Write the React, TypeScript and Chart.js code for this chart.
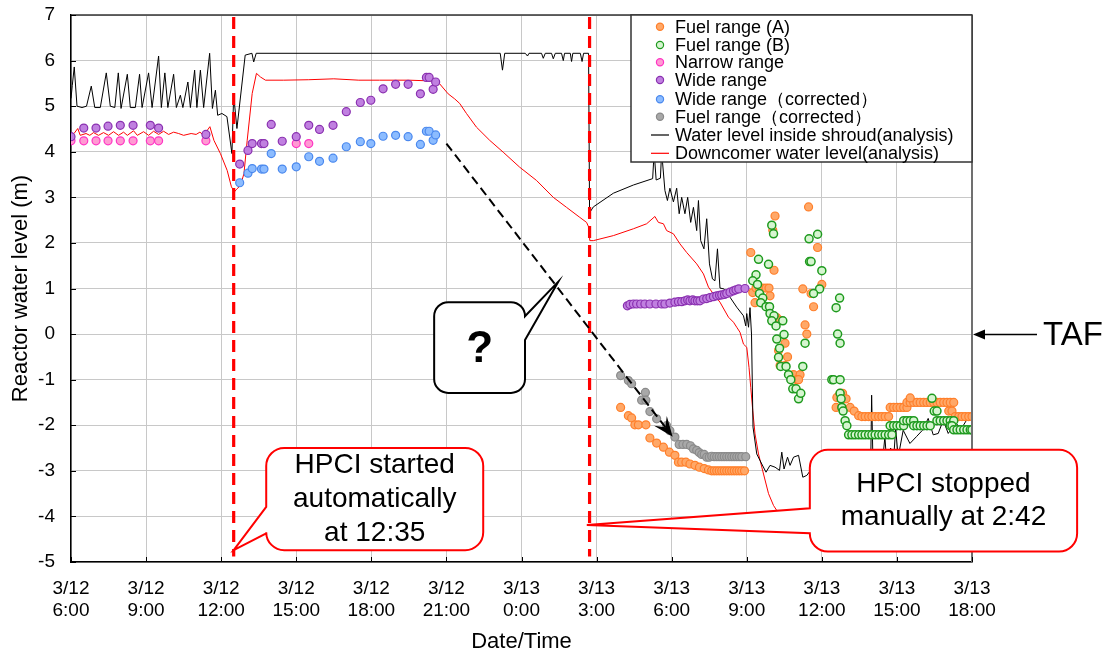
import React, { useEffect, useRef } from 'react';
import { Chart, registerables } from 'chart.js';

Chart.register(...registerables);

const FONT = 'Arial, "Liberation Sans", sans-serif';

// x = hours since 3/12 6:00, y = water level (m)
const tickDates = ['3/12', '3/12', '3/12', '3/12', '3/12', '3/12', '3/13', '3/13', '3/13', '3/13', '3/13', '3/13', '3/13'];
const tickTimes = ['6:00', '9:00', '12:00', '15:00', '18:00', '21:00', '0:00', '3:00', '6:00', '9:00', '12:00', '15:00', '18:00'];

const fuelA: number[][] = [
  [21.96, -1.61], [22.27, -1.79], [22.4, -1.84], [22.53, -1.99], [22.67, -1.99], [22.97, -1.99], [23.13, -2.28], [23.4, -2.39],
  [23.67, -2.48], [23.91, -2.59], [24.13, -2.66], [24.27, -2.81], [24.4, -2.81], [24.57, -2.81], [24.73, -2.85], [24.93, -2.88],
  [25.11, -2.92], [25.3, -2.95], [25.47, -2.98], [25.6, -3.0], [25.7, -3.0], [25.8, -3.0], [25.9, -3.0], [26.0, -3.0], [26.1, -3.0],
  [26.2, -3.0], [26.3, -3.0], [26.4, -3.0], [26.5, -3.0], [26.6, -3.0], [26.7, -3.0], [26.8, -3.0], [26.91, -3.0],
  [27.16, 1.79], [28.13, 2.59], [28.04, 2.28], [28.09, 1.4], [27.24, 0.91], [27.37, 1.01], [27.5, 1.01], [27.64, 1.01], [27.77, 1.01],
  [27.89, 1.01], [27.33, 0.69], [27.93, 0.84], [28.2, 0.36], [28.33, 0.3], [28.53, -0.2], [28.27, -0.36], [28.63, -0.5], [28.33, -0.69],
  [28.53, -0.69], [28.87, -0.89], [29.13, -0.89], [29.0, -1.0], [29.07, -1.0], [29.24, 0.99], [29.47, 2.79], [29.83, 1.9], [30.0, 1.09],
  [29.57, 0.89], [29.67, 0.6], [29.33, 0.2], [29.4, 0.0], [30.6, -1.39], [30.73, -1.3], [30.83, -1.3], [30.97, -1.42], [30.57, -1.61],
  [30.8, -1.61], [31.13, -1.61], [31.29, -1.69], [31.47, -1.79], [31.6, -1.81], [31.73, -1.81], [31.87, -1.81], [32.0, -1.81],
  [32.13, -1.81], [32.27, -1.81], [32.4, -1.81], [32.53, -1.81], [32.67, -1.81], [32.73, -1.61], [32.87, -1.61], [33.0, -1.61],
  [33.13, -1.61], [33.27, -1.61], [33.4, -1.61], [33.4, -1.5], [33.53, -1.5], [33.67, -1.5], [33.8, -1.5], [33.93, -1.5], [34.07, -1.5],
  [34.2, -1.5], [34.33, -1.5], [34.47, -1.5], [34.6, -1.5], [34.73, -1.5], [34.87, -1.5], [35.0, -1.5], [35.13, -1.5], [35.27, -1.5],
  [33.53, -1.4], [35.07, -1.69], [35.2, -1.69], [35.33, -1.81], [35.47, -1.81], [35.6, -1.81], [35.73, -1.81], [35.87, -1.81], [36.0, -1.81],
];

const fuelB: number[][] = [
  [27.47, 1.64], [27.87, 1.53], [27.37, 1.3], [27.24, 1.17], [27.43, 1.09], [28.0, 2.39], [28.07, 2.2], [27.51, 0.89], [27.64, 0.79],
  [27.56, 0.69], [27.77, 0.6], [27.91, 0.6], [27.93, 0.45], [28.09, 0.4], [28.0, 0.29], [28.44, 0.29], [28.17, 0.18], [28.49, -0.01],
  [28.2, -0.11], [28.31, -0.31], [28.27, -0.51], [28.36, -0.71], [28.57, -0.71], [28.67, -0.89], [28.76, -1.0], [28.84, -1.2],
  [28.97, -1.2], [29.07, -1.42], [29.16, -1.3], [29.24, -0.71], [29.33, -0.2], [29.51, 1.59], [29.57, 1.59], [29.49, 2.09],
  [29.83, 2.19], [30.0, 1.39], [29.91, 0.99], [29.67, 0.89], [30.71, 0.79], [30.57, 0.58], [30.63, 0.0], [30.73, -0.2], [30.4, -1.0],
  [30.47, -1.0], [30.73, -1.0], [30.73, -1.3], [30.77, -1.42], [30.8, -1.61], [30.85, -1.69], [30.93, -1.9], [31.0, -2.01],
  [31.07, -2.21], [31.2, -2.21], [31.33, -2.21], [31.47, -2.21], [31.6, -2.21], [31.73, -2.21], [31.87, -2.21], [32.0, -2.21],
  [32.13, -2.21], [32.27, -2.21], [32.4, -2.21], [32.53, -2.21], [32.67, -2.21], [32.8, -2.21], [32.73, -2.01], [32.87, -2.01],
  [33.0, -2.01], [33.13, -2.01], [33.27, -2.01], [33.27, -1.9], [33.4, -1.9], [33.53, -1.9], [33.67, -1.9], [33.67, -2.01], [33.8, -2.01],
  [33.93, -2.01], [34.07, -2.01], [34.2, -2.01], [34.33, -2.01], [34.4, -1.41], [34.49, -1.69], [34.6, -1.69], [34.6, -1.9], [34.73, -1.9],
  [34.87, -1.9], [35.0, -1.9], [35.13, -1.9], [35.27, -1.9], [35.13, -2.01], [35.2, -2.01], [35.27, -2.1], [35.4, -2.1], [35.53, -2.1],
  [35.67, -2.1], [35.8, -2.1], [35.93, -2.1], [36.0, -2.1],
];

const narrowRange: number[][] = [
  [0, 4.24], [0.51, 4.24], [1.0, 4.24], [1.48, 4.24], [1.97, 4.24], [2.48, 4.24], [3.17, 4.24], [3.5, 4.24], [5.39, 4.24], [9.0, 4.18], [9.5, 4.18],
];

const wideRange: number[][] = [
  [0, 4.33], [0.51, 4.52], [1.0, 4.52], [1.48, 4.56], [1.97, 4.58], [2.48, 4.58], [3.17, 4.58], [3.5, 4.52], [5.39, 4.38], [6.74, 3.73],
  [7.07, 4.03], [7.24, 4.18], [7.61, 4.18], [7.71, 4.18], [8.0, 4.6], [8.44, 4.23], [9.0, 4.33], [9.5, 4.58], [9.93, 4.49], [10.47, 4.58],
  [11.0, 4.88], [11.56, 5.08], [11.98, 5.13], [12.47, 5.38], [12.97, 5.48], [13.47, 5.48], [13.96, 5.27], [14.2, 5.63], [14.31, 5.63],
  [14.47, 5.37], [14.57, 5.53],
  [22.23, 0.62], [22.33, 0.65], [22.47, 0.66], [22.6, 0.66], [22.76, 0.66], [22.93, 0.66], [23.13, 0.66], [23.37, 0.66], [23.6, 0.66],
  [23.73, 0.66], [23.93, 0.68], [24.13, 0.7], [24.27, 0.71], [24.4, 0.71], [24.53, 0.73], [24.64, 0.75], [24.73, 0.73], [24.84, 0.75],
  [24.93, 0.73], [25.03, 0.73], [25.13, 0.73], [25.27, 0.77], [25.4, 0.78], [25.53, 0.8], [25.67, 0.82], [25.8, 0.84], [25.91, 0.85],
  [26.0, 0.86], [26.11, 0.87], [26.2, 0.89], [26.33, 0.92], [26.47, 0.95], [26.57, 0.97], [26.68, 0.99], [26.93, 1.0],
];

const wideCorrected: number[][] = [
  [6.74, 3.32], [7.07, 3.53], [7.24, 3.63], [7.61, 3.62], [7.71, 3.62], [8.0, 3.96], [8.44, 3.62], [9.0, 3.67], [9.5, 3.89], [9.93, 3.79],
  [10.47, 3.86], [11.0, 4.11], [11.56, 4.22], [11.98, 4.18], [12.47, 4.34], [12.97, 4.36], [13.47, 4.33], [13.96, 4.16], [14.2, 4.45],
  [14.31, 4.45], [14.47, 4.25], [14.57, 4.37],
];

const fuelCorrected: number[][] = [
  [21.96, -0.91], [22.27, -1.02], [22.4, -1.09], [22.8, -1.45], [22.95, -1.28], [22.97, -1.45], [23.13, -1.7], [23.4, -1.86], [23.8, -2.01],
  [23.93, -2.12], [24.13, -2.26], [24.3, -2.42], [24.45, -2.42], [24.6, -2.42], [24.75, -2.45], [24.87, -2.52], [25.0, -2.55], [25.1, -2.6],
  [25.2, -2.64], [25.3, -2.64], [25.4, -2.7], [25.5, -2.7], [25.6, -2.68], [25.7, -2.69], [25.8, -2.69], [25.9, -2.69], [26.0, -2.69],
  [26.1, -2.69], [26.2, -2.69], [26.3, -2.69], [26.4, -2.69], [26.5, -2.69], [26.6, -2.69], [26.7, -2.69], [26.8, -2.69], [26.96, -2.69],
];

const shroudLevel: number[][] = [
  [0, 5.17], [0.05, 5.45], [0.13, 5.86], [0.24, 5.0], [0.44, 4.97], [0.62, 5.0], [0.81, 5.44], [0.95, 4.97], [1.17, 4.97], [1.41, 5.73],
  [1.57, 5.0], [1.75, 4.97], [1.89, 5.73], [2.0, 4.95], [2.25, 5.7], [2.37, 4.97], [2.57, 4.97], [2.74, 5.7], [2.84, 4.97], [3.1, 5.73],
  [3.24, 4.97], [3.5, 6.1], [3.61, 4.97], [3.75, 5.73], [3.87, 4.97], [4.1, 5.7], [4.21, 4.97], [4.37, 5.24], [4.47, 4.97], [4.67, 5.53],
  [4.77, 4.97], [4.94, 5.79], [5.03, 4.97], [5.17, 5.79], [5.3, 4.97], [5.54, 6.16], [5.65, 4.95], [5.77, 5.35], [5.86, 4.8], [6.03, 4.84],
  [6.23, 4.77], [6.43, 3.96], [6.5, 5.24], [6.63, 4.51], [6.96, 6.12], [7.23, 6.16], [7.3, 5.97], [7.4, 6.16], [17.15, 6.16], [17.24, 5.79],
  [17.33, 6.16], [18.15, 6.16], [18.24, 6.1], [18.3, 6.16], [18.8, 6.16], [18.87, 6.05], [18.95, 6.16], [19.2, 6.16], [19.27, 6.04],
  [19.35, 6.16], [19.6, 6.16], [19.67, 6.0], [19.72, 6.16], [19.95, 6.16], [20.0, 5.98], [20.05, 6.16], [20.35, 6.16], [20.42, 5.98],
  [20.48, 6.16], [20.68, 6.16], [20.72, 2.66], [20.87, 2.79], [21.67, 3.09], [22.47, 3.27], [23.24, 3.41], [23.3, 4.0], [23.38, 3.38],
  [23.55, 3.42], [23.6, 4.0], [23.73, 3.15], [23.83, 2.93], [23.93, 3.2], [24.07, 2.9], [24.2, 3.2], [24.3, 2.64], [24.4, 3.0],
  [24.53, 2.64], [24.64, 3.0], [24.76, 2.45], [24.87, 2.78], [25.0, 2.27], [25.07, 2.93], [25.16, 2.05], [25.29, 1.87], [25.4, 2.53],
  [25.51, 1.54], [25.63, 1.21], [25.73, 1.17], [25.83, 1.87], [25.93, 1.01], [26.09, 0.99], [26.33, 0.81], [26.6, 0.59], [26.87, 0.4],
  [26.96, 0.18], [27.0, 0.45], [27.07, 0.15], [27.13, 0.58], [27.19, 0.0], [27.25, -2.04], [27.4, -2.63], [27.6, -2.85], [27.77, -3.03],
  [27.93, -2.88], [28.13, -2.92], [28.31, -2.99], [28.4, -2.59], [28.49, -2.96], [28.63, -2.7], [28.73, -2.88], [28.87, -2.7],
  [29.07, -2.66], [29.24, -3.14], [29.4, -3.1], [29.6, -2.95], [30.0, -3.1], [30.5, -2.9], [31.0, -3.05], [31.5, -2.95], [31.95, -3.0],
  [31.99, -1.34], [32.05, -3.0], [32.3, -2.6], [32.4, -2.95], [32.52, -2.25], [32.6, -2.9], [32.75, -2.5], [32.85, -2.9], [32.95, -2.07],
  [33.05, -2.7], [33.25, -2.11], [33.52, -2.4], [33.78, -2.25], [34.02, -2.11], [34.25, -1.85], [34.45, -2.21], [34.65, -2.18],
  [34.85, -1.89], [35.05, -2.18], [35.22, -2.04], [35.38, -1.97], [35.58, -2.07], [35.78, -1.89], [36.0, -1.85],
];

const downcomerLevel: number[][] = [
  [0, 4.36], [0.12, 4.4], [0.27, 4.51], [0.37, 4.36], [0.6, 4.4], [0.75, 4.36], [0.9, 4.42], [1.1, 4.36], [1.3, 4.42], [1.5, 4.36],
  [1.7, 4.44], [1.9, 4.36], [2.1, 4.43], [2.25, 4.36], [2.5, 4.46], [2.65, 4.36], [2.9, 4.44], [3.1, 4.36], [3.3, 4.45], [3.5, 4.38],
  [3.7, 4.45], [3.9, 4.38], [4.1, 4.43], [4.3, 4.4], [4.5, 4.36], [4.8, 4.4], [5.0, 4.38], [5.15, 4.43], [5.3, 4.36], [5.55, 4.55],
  [5.71, 4.25], [5.97, 3.96], [6.24, 3.59], [6.41, 3.23], [6.53, 3.12], [6.62, 3.18], [6.77, 3.26], [6.91, 3.52], [7.04, 4.25],
  [7.24, 5.28], [7.41, 5.72], [7.57, 5.64], [7.77, 5.57], [8.5, 5.57], [9.5, 5.58], [10.5, 5.6], [11.5, 5.57], [12.33, 5.57],
  [13.5, 5.57], [14.6, 5.55], [14.73, 5.49], [15.07, 5.27], [15.33, 5.16], [15.53, 5.06], [15.8, 4.84], [16.2, 4.54], [16.73, 4.25],
  [17.27, 3.99], [17.93, 3.66], [18.6, 3.37], [19.27, 3.0], [19.8, 2.78], [20.33, 2.56], [20.6, 2.45], [20.69, 2.34], [20.73, 2.05],
  [20.87, 2.05], [21.67, 2.16], [22.47, 2.31], [23.0, 2.42], [23.33, 2.58], [23.47, 2.45], [23.67, 2.42], [23.8, 2.27], [24.07, 2.2],
  [24.33, 1.98], [24.6, 1.79], [25.0, 1.54], [25.27, 1.32], [25.47, 1.03], [25.67, 0.88], [25.93, 0.7], [26.27, 0.37], [26.47, 0.26],
  [26.6, 0.15], [26.73, 0.04], [26.87, -0.22], [27.0, -0.29], [27.09, -0.73], [27.16, -1.17], [27.24, -1.68], [27.33, -2.19],
  [27.47, -2.63], [27.67, -3.07], [27.87, -3.5], [28.07, -3.76], [28.2, -3.87],
];

// HPCI events (hours since 3/12 6:00)
const hpciStart = 6.5;
const hpciStop = 20.72;

const pts = (a: number[][]) => a.map(([x, y]) => ({ x, y }));

function callout(ctx: CanvasRenderingContext2D, x1: number, y1: number, x2: number, y2: number, r: number,
  side: 'left' | 'right', a1: number, a2: number, tx: number, ty: number) {
  ctx.beginPath();
  ctx.moveTo(x1 + r, y1);
  ctx.lineTo(x2 - r, y1);
  ctx.arcTo(x2, y1, x2, y1 + r, r);
  if (side === 'right') {
    ctx.lineTo(x2, a1);
    ctx.lineTo(tx, ty);
    ctx.lineTo(x2, a2);
  }
  ctx.lineTo(x2, y2 - r);
  ctx.arcTo(x2, y2, x2 - r, y2, r);
  ctx.lineTo(x1 + r, y2);
  ctx.arcTo(x1, y2, x1, y2 - r, r);
  if (side === 'left') {
    ctx.lineTo(x1, a2);
    ctx.lineTo(tx, ty);
    ctx.lineTo(x1, a1);
  }
  ctx.lineTo(x1, y1 + r);
  ctx.arcTo(x1, y1, x1 + r, y1, r);
  ctx.closePath();
  ctx.fillStyle = '#fff';
  ctx.fill();
  ctx.stroke();
}

const overlayPlugin = {
  id: 'overlay',
  afterDatasetsDraw(chart: any) {
    const ctx: CanvasRenderingContext2D = chart.ctx;
    const xs = chart.scales.x;
    const ys = chart.scales.y;
    const ca = chart.chartArea;
    const X = (v: number) => xs.getPixelForValue(v);
    const Y = (v: number) => ys.getPixelForValue(v);
    ctx.save();

    // top & right frame
    ctx.lineWidth = 1.5;
    ctx.strokeStyle = '#333';
    ctx.beginPath();
    ctx.moveTo(ca.left, ca.top);
    ctx.lineTo(ca.right, ca.top);
    ctx.stroke();
    ctx.strokeStyle = '#707070';
    ctx.lineWidth = 2;
    ctx.beginPath();
    ctx.moveTo(ca.right, ca.top);
    ctx.lineTo(ca.right, ca.bottom);
    ctx.stroke();

    // inner tick marks
    ctx.strokeStyle = '#000';
    ctx.lineWidth = 1;
    ctx.beginPath();
    for (let v = -5; v <= 7; v++) {
      const y = Math.round(Y(v)) + 0.5;
      ctx.moveTo(ca.left, y);
      ctx.lineTo(ca.left + 5, y);
    }
    for (let h = 0; h <= 36; h += 3) {
      const x = Math.round(X(h)) + 0.5;
      ctx.moveTo(x, ca.bottom);
      ctx.lineTo(x, ca.bottom - 5);
    }
    ctx.stroke();

    // HPCI dashed markers
    ctx.strokeStyle = '#ff0000';
    ctx.lineWidth = 3.2;
    ctx.setLineDash([12, 7]);
    [hpciStart, hpciStop].forEach((h) => {
      ctx.beginPath();
      ctx.moveTo(X(h), ca.top + 2);
      ctx.lineTo(X(h), Y(-4.88));
      ctx.stroke();
    });

    // black dashed arrow
    const ax1 = X(15.0), ay1 = Y(4.18), ax2 = X(24.04), ay2 = Y(-2.25);
    const dx = ax2 - ax1, dy = ay2 - ay1;
    const len = Math.hypot(dx, dy);
    const ux = dx / len, uy = dy / len;
    ctx.strokeStyle = '#000';
    ctx.lineWidth = 2;
    ctx.setLineDash([9, 5]);
    ctx.beginPath();
    ctx.moveTo(ax1, ay1);
    ctx.lineTo(ax2 - ux * 12, ay2 - uy * 12);
    ctx.stroke();
    ctx.setLineDash([]);
    const hl = 20, hw = 8;
    ctx.fillStyle = '#000';
    ctx.beginPath();
    ctx.moveTo(ax2, ay2);
    ctx.lineTo(ax2 - ux * hl - uy * hw, ay2 - uy * hl + ux * hw);
    ctx.lineTo(ax2 - ux * hl * 0.6, ay2 - uy * hl * 0.6);
    ctx.lineTo(ax2 - ux * hl + uy * hw, ay2 - uy * hl - ux * hw);
    ctx.closePath();
    ctx.fill();

    // "?" balloon
    ctx.strokeStyle = '#000';
    ctx.lineWidth = 2;
    callout(ctx, X(14.51), Y(0.7), X(18.14), Y(-1.29), 14, 'right', Y(0.39), Y(-0.13), X(19.47), Y(1.15));
    ctx.fillStyle = '#000';
    ctx.font = `bold 44px ${FONT}`;
    ctx.textAlign = 'center';
    ctx.textBaseline = 'middle';
    ctx.fillText('?', (X(14.51) + X(18.14)) / 2, (Y(0.7) + Y(-1.29)) / 2 + 2);

    // HPCI started callout
    ctx.strokeStyle = '#ff0000';
    ctx.lineWidth = 2;
    const s1 = X(7.8), s2 = X(16.47), s3 = Y(-2.5), s4 = Y(-4.74);
    callout(ctx, s1, s3, s2, s4, 18, 'left', Y(-3.79), Y(-4.37), X(hpciStart), Y(-4.74));
    ctx.fillStyle = '#000';
    ctx.font = `28px ${FONT}`;
    const scx = (s1 + s2) / 2, scy = (s3 + s4) / 2;
    ['HPCI started', 'automatically', 'at 12:35'].forEach((t, i) => ctx.fillText(t, scx, scy + (i - 1) * 34));

    // HPCI stopped callout
    const t1 = X(29.52), t2 = X(40.2), t3 = Y(-2.54), t4 = Y(-4.77);
    ctx.strokeStyle = '#ff0000';
    callout(ctx, t1, t3, t2, t4, 18, 'left', Y(-3.82), Y(-4.37), X(20.61), Y(-4.19));
    ctx.fillStyle = '#000';
    const tcx = (t1 + t2) / 2, tcy = (t3 + t4) / 2;
    ['HPCI stopped', 'manually at 2:42'].forEach((t, i) => ctx.fillText(t, tcx, tcy + (i - 0.5) * 33));

    // legend
    const lx1 = 631, lx2 = ca.right, ly1 = ca.top, ly2 = 162;
    ctx.fillStyle = '#fff';
    ctx.fillRect(lx1, ly1, lx2 - lx1, ly2 - ly1);
    ctx.strokeStyle = '#333';
    ctx.lineWidth = 1.5;
    ctx.strokeRect(lx1, ly1, lx2 - lx1, ly2 - ly1);
    const rows = [26.7, 45, 62.3, 80, 99.3, 116.7, 135, 153.3];
    ctx.font = `18px ${FONT}`;
    ctx.textAlign = 'left';
    ctx.textBaseline = 'middle';
    chart.data.datasets.forEach((ds: any, i: number) => {
      const y = rows[i];
      if (ds.showLine) {
        ctx.strokeStyle = ds.borderColor;
        ctx.lineWidth = 1.2;
        ctx.beginPath();
        ctx.moveTo(651, y);
        ctx.lineTo(669, y);
        ctx.stroke();
      } else {
        ctx.beginPath();
        ctx.arc(660, y, 3.6, 0, Math.PI * 2);
        ctx.fillStyle = ds.backgroundColor;
        ctx.fill();
        ctx.strokeStyle = ds.borderColor;
        ctx.lineWidth = 1.2;
        ctx.stroke();
      }
      ctx.fillStyle = '#000';
      ctx.fillText(ds.label, 675, y + 1);
    });

    // TAF marker
    const ty = Math.round(Y(0)) + 0.5;
    ctx.strokeStyle = '#000';
    ctx.lineWidth = 1.6;
    ctx.beginPath();
    ctx.moveTo(1037, ty);
    ctx.lineTo(ca.right + 10, ty);
    ctx.stroke();
    ctx.fillStyle = '#000';
    ctx.beginPath();
    ctx.moveTo(ca.right + 1, ty);
    ctx.lineTo(ca.right + 13, ty - 5);
    ctx.lineTo(ca.right + 13, ty + 5);
    ctx.closePath();
    ctx.fill();
    ctx.font = `33px ${FONT}`;
    ctx.textAlign = 'left';
    ctx.fillText('TAF', 1043, ty + 1);

    ctx.restore();
  },
};

export default function App() {
  const ref = useRef<HTMLCanvasElement | null>(null);
  useEffect(() => {
    if (!ref.current) return;
    const scatter = (label: string, data: number[][], bg: string, bd: string, order: number, bw = 1.2) => ({
      label, data: pts(data), backgroundColor: bg, borderColor: bd, pointRadius: 4, pointBorderWidth: bw,
      pointHoverRadius: 4, showLine: false, order,
    });
    const line = (label: string, data: number[][], color: string, order: number) => ({
      label, data: pts(data), borderColor: color, backgroundColor: color, borderWidth: 1, pointRadius: 0,
      pointHoverRadius: 0, showLine: true, fill: false, tension: 0, order,
    });
    const chart = new Chart(ref.current, {
      type: 'scatter',
      data: {
        datasets: [
          scatter('Fuel range (A)', fuelA, '#ffa868', '#ff7f2a', 3),
          scatter('Fuel range (B)', fuelB, '#d6f5d0', '#1e9a1e', 2, 1.5),
          scatter('Narrow range', narrowRange, '#ff9ad2', '#ff33c4', 5),
          scatter('Wide range', wideRange, '#c080e0', '#8a30b0', 4),
          scatter('Wide range（corrected）', wideCorrected, '#8cbcff', '#4a88ee', 6),
          scatter('Fuel range（corrected）', fuelCorrected, '#a8a8a8', '#8a8a8a', 7),
          line('Water level inside shroud(analysis)', shroudLevel, '#000000', 10),
          line('Downcomer water level(analysis)', downcomerLevel, '#ff0000', 11),
        ],
      },
      options: {
        animation: false,
        responsive: false,
        events: [],
        layout: { padding: { left: 0, right: 139, top: 15, bottom: 0 } },
        plugins: { legend: { display: false }, tooltip: { enabled: false } },
        scales: {
          x: {
            type: 'linear', min: 0, max: 36,
            afterFit: (s: any) => { s.height = 93; s.paddingLeft = 0; s.paddingRight = 0; },
            ticks: {
              stepSize: 3, autoSkip: false, maxRotation: 0, minRotation: 0, padding: 15, color: '#000',
              font: { size: 19, family: FONT },
              callback: (v: any) => { const i = Math.round(Number(v) / 3); return [tickDates[i], tickTimes[i]]; },
            },
            grid: { color: '#c8c8c8', lineWidth: 1, drawTicks: false },
            border: { display: true, color: '#000', width: 1.5 },
            title: { display: true, text: 'Date/Time', color: '#000', font: { size: 22, family: FONT }, padding: { top: 0, bottom: 0 } },
          },
          y: {
            min: -5, max: 7,
            afterFit: (s: any) => { s.width = 71; s.paddingTop = 0; s.paddingBottom = 0; },
            ticks: { stepSize: 1, padding: 16, color: '#000', font: { size: 19, family: FONT }, callback: (v: any) => String(v) },
            grid: { color: '#c8c8c8', lineWidth: 1, drawTicks: false },
            border: { display: true, color: '#000', width: 1.5 },
            title: { display: true, text: 'Reactor water level (m)', color: '#000', font: { size: 22, family: FONT }, padding: { top: 8, bottom: 0 } },
          },
        },
      } as any,
      plugins: [overlayPlugin],
    });
    return () => chart.destroy();
  }, []);
  return (
    <div style={{ position: 'fixed', left: 0, top: 0, width: 1111, height: 655, background: '#fff' }}>
      <canvas ref={ref} width={1111} height={655} style={{ width: 1111, height: 655, display: 'block' }} />
    </div>
  );
}
